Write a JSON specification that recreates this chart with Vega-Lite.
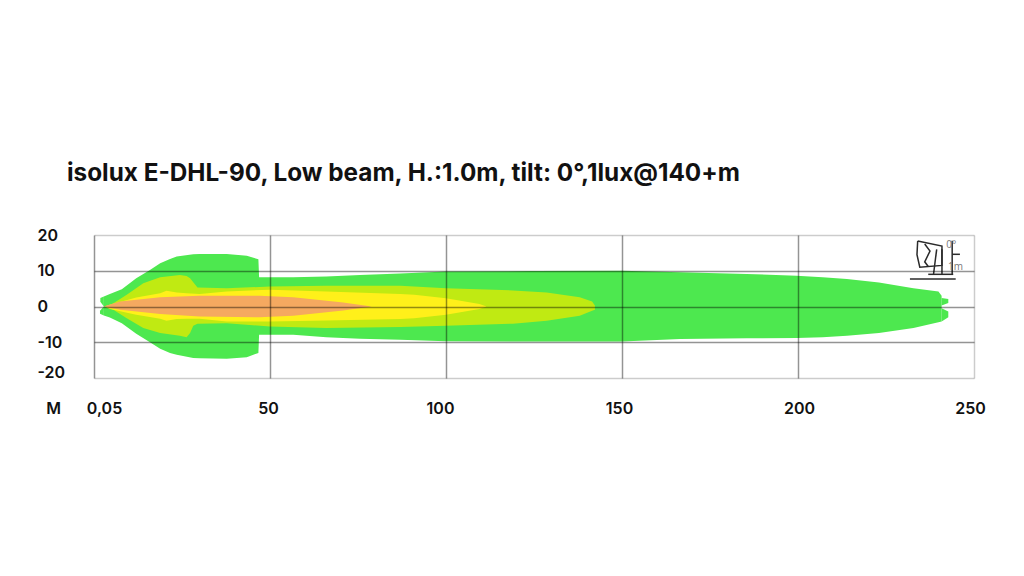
{"$schema":"https://vega.github.io/schema/vega-lite/v6.json","autosize":"none","width":880,"height":143,"padding":{"left":94,"top":235,"right":50,"bottom":198},"background":"white","title":{"text":"isolux E-DHL-90, Low beam, H.:1.0m, tilt: 0°,1lux@140+m","anchor":"start","frame":"group","dx":-27,"offset":41,"font":"Inter","fontSize":24.3,"fontWeight":700,"color":"#111111"},"config":{"view":{"stroke":null}},"datasets":{"zones":[
{"band":"g","part":"gt1","x":1.8,"y":2.4,"y2":1.3},{"band":"g","part":"gt1","x":2.8,"y":2.8,"y2":0},
{"band":"g","part":"gt2","x":1.7,"y":-1.2,"y2":-2},{"band":"g","part":"gt2","x":2.8,"y":0,"y2":-2.5},
{"band":"g","part":"gm","x":2.8,"y":2.8,"y2":-2.5},{"band":"g","part":"gm","x":4.5,"y":3.5,"y2":-3.1},{"band":"g","part":"gm","x":7.9,"y":4.8,"y2":-4.7},{"band":"g","part":"gm","x":12,"y":7.9,"y2":-7.6},{"band":"g","part":"gm","x":15.9,"y":10.2,"y2":-10},{"band":"g","part":"gm","x":18.8,"y":12.1,"y2":-11.8},{"band":"g","part":"gm","x":21.6,"y":13.3,"y2":-13},{"band":"g","part":"gm","x":23.5,"y":14,"y2":-13.5},{"band":"g","part":"gm","x":28.2,"y":14.6,"y2":-14.4},{"band":"g","part":"gm","x":30,"y":14.7,"y2":-14.5},{"band":"g","part":"gm","x":37.7,"y":14.7,"y2":-14.6},{"band":"g","part":"gm","x":43.4,"y":14.2,"y2":-14.2},{"band":"g","part":"gm","x":46.7,"y":13.2,"y2":-13},{"band":"g","part":"gm","x":46.9,"y":8.2,"y2":-7.9},{"band":"g","part":"gm","x":56.6,"y":8.2,"y2":-7.9},{"band":"g","part":"gm","x":66,"y":8.4,"y2":-8.6},{"band":"g","part":"gm","x":75.6,"y":8.8,"y2":-9},{"band":"g","part":"gm","x":87,"y":9.2,"y2":-9.3},{"band":"g","part":"gm","x":100,"y":9.8,"y2":-9.7},{"band":"g","part":"gm","x":125,"y":9.9,"y2":-9.8},{"band":"g","part":"gm","x":150,"y":10,"y2":-9.8},{"band":"g","part":"gm","x":166.5,"y":9.6,"y2":-9.1},{"band":"g","part":"gm","x":185.4,"y":9.1,"y2":-8.9},{"band":"g","part":"gm","x":199.6,"y":8.6,"y2":-8.8},{"band":"g","part":"gm","x":207,"y":8.2,"y2":-8.6},{"band":"g","part":"gm","x":213.9,"y":7.7,"y2":-8.2},{"band":"g","part":"gm","x":223,"y":6.7,"y2":-7.4},{"band":"g","part":"gm","x":232.8,"y":5.1,"y2":-6},{"band":"g","part":"gm","x":239.9,"y":4.2,"y2":-4.4},{"band":"g","part":"gm","x":240.8,"y":3,"y2":-4.2},
{"band":"g","part":"gt3","x":240.8,"y":2.4,"y2":0.3},{"band":"g","part":"gt3","x":242.7,"y":2.1,"y2":1},
{"band":"g","part":"gt4","x":240.8,"y":-0.5,"y2":-4.2},{"band":"g","part":"gt4","x":242.7,"y":-1.4,"y2":-3},
{"band":"l","part":"l","x":4,"y":0.3,"y2":-0.3},{"band":"l","part":"l","x":5.5,"y":0.9,"y2":-0.9},{"band":"l","part":"l","x":9.3,"y":3.3,"y2":-3.3},{"band":"l","part":"l","x":14,"y":6.5,"y2":-6},{"band":"l","part":"l","x":18.8,"y":8.2,"y2":-7.4},{"band":"l","part":"l","x":24.4,"y":8.8,"y2":-8.2},{"band":"l","part":"l","x":26.3,"y":8.5,"y2":-8.6},{"band":"l","part":"l","x":27.3,"y":7.9,"y2":-7.4},{"band":"l","part":"l","x":28.2,"y":6.8,"y2":-5.4},{"band":"l","part":"l","x":29.4,"y":5.3,"y2":-4.8},{"band":"l","part":"l","x":37.7,"y":5.1,"y2":-4.7},{"band":"l","part":"l","x":50,"y":5.6,"y2":-5.6},{"band":"l","part":"l","x":66,"y":5.8,"y2":-6},{"band":"l","part":"l","x":87,"y":5.8,"y2":-5.7},{"band":"l","part":"l","x":100,"y":5.1,"y2":-5.4},{"band":"l","part":"l","x":119,"y":4.5,"y2":-4.8},{"band":"l","part":"l","x":128.6,"y":3.9,"y2":-4},{"band":"l","part":"l","x":138,"y":2.6,"y2":-2.6},{"band":"l","part":"l","x":141.5,"y":1.4,"y2":-1.2},{"band":"l","part":"l","x":142.3,"y":0.3,"y2":-0.9},
{"band":"y","part":"y","x":3.5,"y":0.2,"y2":-0.2},{"band":"y","part":"y","x":4.5,"y":0.5,"y2":-0.7},{"band":"y","part":"y","x":12,"y":2.5,"y2":-2.3},{"band":"y","part":"y","x":18.8,"y":3.7,"y2":-3.4},{"band":"y","part":"y","x":20.6,"y":4.4,"y2":-4},{"band":"y","part":"y","x":23.5,"y":3.9,"y2":-3.5},{"band":"y","part":"y","x":26.3,"y":3.7,"y2":-3.4},{"band":"y","part":"y","x":30,"y":3.5,"y2":-3.4},{"band":"y","part":"y","x":37.7,"y":4.2,"y2":-4.2},{"band":"y","part":"y","x":50,"y":4.7,"y2":-4.2},{"band":"y","part":"y","x":66,"y":4.2,"y2":-3.9},{"band":"y","part":"y","x":87,"y":3.5,"y2":-3.5},{"band":"y","part":"y","x":91,"y":3.3,"y2":-3.3},{"band":"y","part":"y","x":100,"y":2.3,"y2":-2.3},{"band":"y","part":"y","x":109.5,"y":0.7,"y2":-0.7},{"band":"y","part":"y","x":111.5,"y":0,"y2":0},
{"band":"o","part":"o","x":2.7,"y":0,"y2":0},{"band":"o","part":"o","x":7.4,"y":1.4,"y2":-0.9},{"band":"o","part":"o","x":18.8,"y":2.6,"y2":-2.1},{"band":"o","part":"o","x":30,"y":3,"y2":-2.8},{"band":"o","part":"o","x":47,"y":3,"y2":-3},{"band":"o","part":"o","x":56.6,"y":2.6,"y2":-2.6},{"band":"o","part":"o","x":70.8,"y":1.1,"y2":-1.1},{"band":"o","part":"o","x":78.9,"y":0,"y2":0}
],"icon":[
{"stroke":"ground","x":231.8,"y":7.7},{"stroke":"ground","x":244.8,"y":7.7},
{"stroke":"base","x":237,"y":9},{"stroke":"base","x":244.1,"y":9},
{"stroke":"pole","x":243.8,"y":18.4},{"stroke":"pole","x":243.8,"y":8.8},
{"stroke":"arm","x":243.8,"y":14.6},{"stroke":"arm","x":246,"y":14.6},
{"stroke":"post1","x":239.4,"y":16},{"stroke":"post1","x":238.5,"y":9},
{"stroke":"post2","x":240.9,"y":16},{"stroke":"post2","x":240.9,"y":9},
{"stroke":"lamp","x":234,"y":18.3,"order":1},{"stroke":"lamp","x":240.9,"y":16.9,"order":2},{"stroke":"lamp","x":240.9,"y":11.5,"order":3},{"stroke":"lamp","x":234.6,"y":11,"order":4},{"stroke":"lamp","x":233.8,"y":14.5,"order":5},{"stroke":"lamp","x":234,"y":18.3,"order":6},
{"stroke":"sq","x":236,"y":17.5,"order":1},{"stroke":"sq","x":237.5,"y":15.5,"order":2},{"stroke":"sq","x":236,"y":12.5,"order":3},{"stroke":"sq","x":237,"y":11.2,"order":4}
],"iconText":[{"label":"0°","x":242.1,"y":17.2},{"label":"1m","x":242.6,"y":11}]},"layer":[
{"data":{"name":"zones"},"mark":{"type":"area","interpolate":"linear"},"encoding":{"x":{"field":"x","type":"quantitative","scale":{"domain":[0,250],"nice":false},"axis":{"values":[0,50,100,150,200,250],"tickCount":30,"zindex":1,"domain":false,"ticks":false,"grid":true,"gridWidth":1.5,"labelOverlap":false,"labelBound":false,"labelFlush":false,"gridColor":{"condition":{"test":"datum.value==250","value":"rgba(0,0,0,0.2)"},"value":"rgba(0,0,0,0.42)"},"labelExpr":"datum.value==0?'0,05':datum.label","labelFont":"Inter","labelFontSize":16,"labelFontWeight":600,"labelColor":"#111111","labelPadding":22,"labelOffset":{"condition":[{"test":"datum.value==0","value":10},{"test":"datum.value==50","value":-2},{"test":"datum.value==100","value":-6},{"test":"datum.value==150","value":-3},{"test":"datum.value==250","value":-4}],"value":1},"title":"M","titleX":-41,"titleY":30,"titleAlign":"center","titleBaseline":"middle","titleFont":"Inter","titleFontSize":16,"titleFontWeight":600,"titleColor":"#111111"}},"y":{"field":"y","type":"quantitative","scale":{"domain":[-20,20],"nice":false},"axis":{"values":[-20,-10,0,10,20],"tickCount":10,"zindex":1,"domain":false,"ticks":false,"grid":true,"gridWidth":1.5,"labelOverlap":false,"labelBound":false,"labelFlush":false,"gridColor":{"condition":{"test":"datum.value==20||datum.value==-20","value":"rgba(0,0,0,0.2)"},"value":"rgba(0,0,0,0.42)"},"labelExpr":"''+datum.value","labelAlign":"left","labelPadding":57,"labelFont":"Inter","labelFontSize":16,"labelFontWeight":600,"labelColor":"#111111","labelOffset":{"condition":{"test":"datum.value==-20","value":-6},"value":0},"title":null}},"y2":{"field":"y2"},"color":{"field":"band","type":"nominal","scale":{"domain":["g","l","y","o"],"range":["#4de84f","#c0ea12","#fff01a","#f5a960"]},"legend":null},"detail":{"field":"part"}}},
{"data":{"name":"icon"},"mark":{"type":"line","color":"#2b2b2b","strokeWidth":1.5},"encoding":{"x":{"field":"x","type":"quantitative"},"y":{"field":"y","type":"quantitative"},"detail":{"field":"stroke"},"order":{"field":"order"}}},
{"data":{"name":"iconText"},"mark":{"type":"text","align":"left","baseline":"middle","font":"Open Sans","fontSize":10,"color":"#777777"},"encoding":{"x":{"field":"x","type":"quantitative"},"y":{"field":"y","type":"quantitative"},"text":{"field":"label"}}}
]}
